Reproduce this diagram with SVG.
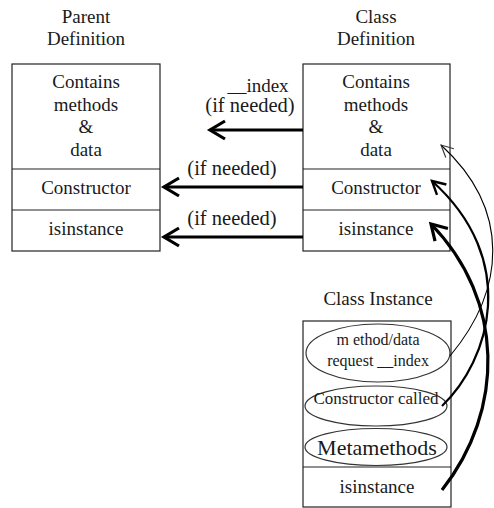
<svg xmlns="http://www.w3.org/2000/svg" width="494" height="508" viewBox="0 0 494 508">
<defs>
<style>
text{font-family:"Liberation Serif","Times New Roman",serif;fill:#1a1a1a;text-anchor:middle}
.t{font-size:19px}
.s{font-size:16px}
.lbl{font-size:20.5px}
.box{fill:#fff;stroke:#222;stroke-width:1.2}
.ell{fill:none;stroke:#333;stroke-width:1.2}
.conn{fill:none;stroke:#000;stroke-linecap:butt}
</style>
<marker id="ah3" markerUnits="userSpaceOnUse" markerWidth="30" markerHeight="30" viewBox="-20 -15 30 30" refX="0" refY="0" orient="auto">
<path d="M-15,-9 L0,0 L-15,9" fill="none" stroke="#000" stroke-width="3.2" stroke-linejoin="miter"/>
</marker>
<marker id="ah2" markerUnits="userSpaceOnUse" markerWidth="30" markerHeight="30" viewBox="-20 -15 30 30" refX="0" refY="0" orient="auto">
<path d="M-13,-7 L0,0 L-13,7" fill="none" stroke="#000" stroke-width="2.4"/>
</marker>
<marker id="ah1" markerUnits="userSpaceOnUse" markerWidth="30" markerHeight="30" viewBox="-20 -15 30 30" refX="0" refY="0" orient="auto">
<path d="M-12,-6 L0,0 L-12,6" fill="none" stroke="#333" stroke-width="1.1"/>
</marker>
</defs>
<rect width="494" height="508" fill="#fff"/>

<g id="parent">
<text class="t" x="86" y="23">Parent</text>
<text class="t" x="86" y="45">Definition</text>
<rect class="box" x="12" y="64" width="148" height="187"/>
<line class="box" x1="12" y1="169" x2="160" y2="169"/>
<line class="box" x1="12" y1="210" x2="160" y2="210"/>
<text class="t" x="86" y="88">Contains</text>
<text class="t" x="86" y="111">methods</text>
<text class="t" x="86" y="133">&amp;</text>
<text class="t" x="86" y="156">data</text>
<text class="t" x="86" y="194">Constructor</text>
<text class="t" x="86" y="235">isinstance</text>
</g>

<g id="classdef">
<text class="t" x="376" y="23">Class</text>
<text class="t" x="376" y="45">Definition</text>
<rect class="box" x="303" y="64" width="147" height="187"/>
<line class="box" x1="303" y1="169" x2="450" y2="169"/>
<line class="box" x1="303" y1="210" x2="450" y2="210"/>
<text class="t" x="376" y="88">Contains</text>
<text class="t" x="376" y="111">methods</text>
<text class="t" x="376" y="133">&amp;</text>
<text class="t" x="376" y="156">data</text>
<text class="t" x="376" y="194">Constructor</text>
<text class="t" x="376" y="235">isinstance</text>
</g>

<g id="instance">
<text class="t" x="378" y="305">Class Instance</text>
<rect class="box" x="303" y="321" width="148" height="186"/>
<line class="box" x1="303" y1="467" x2="451" y2="467"/>
<ellipse class="ell" cx="378" cy="353" rx="72" ry="29"/>
<text class="s" x="378" y="345">m ethod/data</text>
<text class="s" x="378" y="366">request __index</text>
<ellipse class="ell" cx="376" cy="406" rx="71" ry="20"/>
<text class="s" x="376" y="404" style="font-size:17px">Constructor called</text>
<ellipse class="ell" cx="376" cy="447" rx="71" ry="18.5"/>
<text class="t" x="377" y="455" style="font-size:22px">Metamethods</text>
<text class="t" x="377" y="493">isinstance</text>
</g>

<g id="connectors">
<line class="conn" x1="303" y1="130" x2="210" y2="130" stroke-width="3.2" marker-end="url(#ah3)"/>
<text class="t" x="258" y="92">__index</text>
<text class="lbl" x="250" y="112">(if needed)</text>
<line class="conn" x1="303" y1="187" x2="164" y2="187" stroke-width="3.2" marker-end="url(#ah3)"/>
<text class="lbl" x="232" y="175">(if needed)</text>
<line class="conn" x1="303" y1="237" x2="164" y2="237" stroke-width="3.2" marker-end="url(#ah3)"/>
<text class="lbl" x="232" y="225">(if needed)</text>
<path class="conn" d="M450,356 C505,290 512,210 441,145" stroke="#333" stroke-width="1.1" marker-end="url(#ah1)"/>
<path class="conn" d="M442,406 C490,360 520,260 432,181" stroke-width="2.2" marker-end="url(#ah2)"/>
<path class="conn" d="M442,490 C505,410 505,300 431,224" stroke-width="3.2" marker-end="url(#ah3)"/>
</g>
</svg>
